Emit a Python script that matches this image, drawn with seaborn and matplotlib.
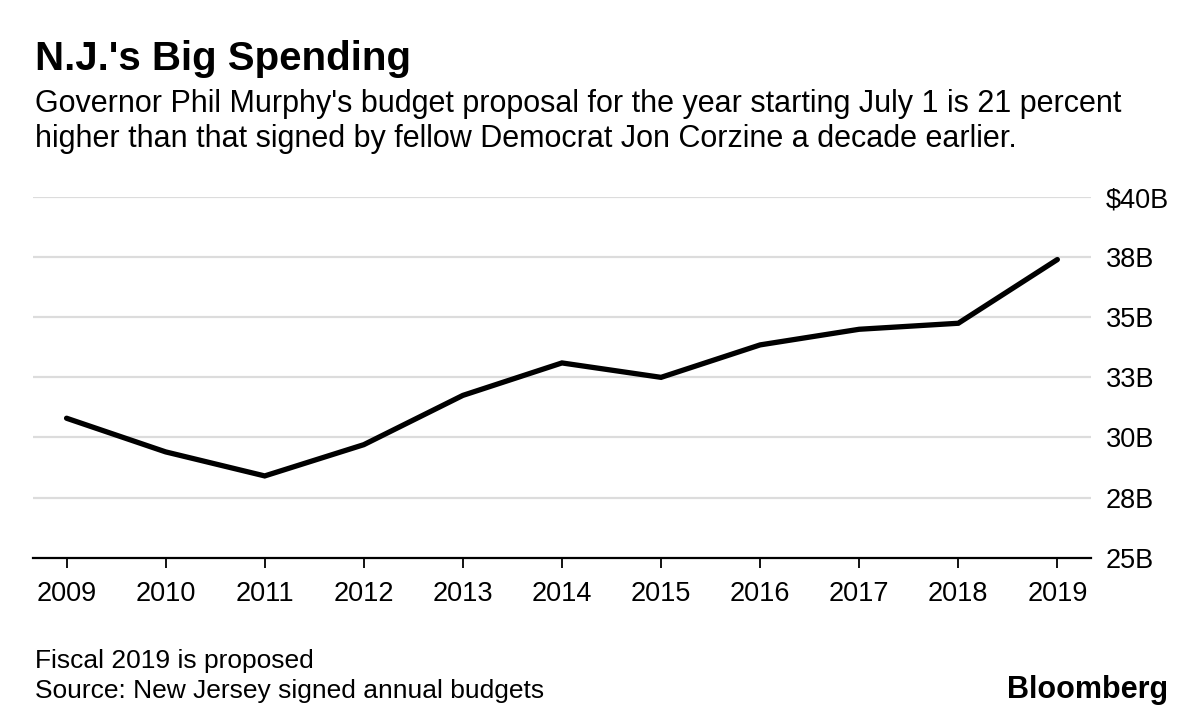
import matplotlib
matplotlib.use("Agg")
import matplotlib.pyplot as plt
import pandas as pd
import seaborn as sns

# Data (billions of dollars)
years = [2009, 2010, 2011, 2012, 2013, 2014, 2015, 2016, 2017, 2018, 2019]
budget = [30.8, 29.4, 28.4, 29.7, 31.75, 33.1, 32.5, 33.85, 34.5, 34.75, 37.4]
y_ticks = [25, 27.5, 30, 32.5, 35, 37.5, 40]
y_labels = ["25B", "28B", "30B", "33B", "35B", "38B", "$40B"]

title = "N.J.'s Big Spending"
subtitle = ("Governor Phil Murphy's budget proposal for the year starting July 1 is 21 percent\n"
            "higher than that signed by fellow Democrat Jon Corzine a decade earlier.")
note = "Fiscal 2019 is proposed"
source = "Source: New Jersey signed annual budgets"

df = pd.DataFrame({"year": years, "budget": budget})

sns.set_style("white")
plt.rcParams["font.family"] = ["Liberation Sans", "DejaVu Sans"]
plt.rcParams["text.color"] = "black"
plt.rcParams["xtick.color"] = "black"
plt.rcParams["ytick.color"] = "black"

fig = plt.figure(figsize=(12, 7.22), dpi=100)
ax = fig.add_axes([0.0278, 0.2276, 0.9088 - 0.0278, 0.7271 - 0.2276])

for v in y_ticks[1:]:
    ax.axhline(v, color="#dcdcdc", lw=1.6, zorder=0)

sns.lineplot(data=df, x="year", y="budget", ax=ax, color="black", lw=3.8,
             solid_capstyle="round", solid_joinstyle="miter")

ax.set_xlim(2008.665, 2019.335)
ax.set_ylim(25, 40)
ax.set_xticks(years)
ax.set_xticklabels([str(y) for y in years], fontsize=19.5)
ax.set_yticks(y_ticks)
ax.set_yticklabels(y_labels, fontsize=19.5)
ax.yaxis.tick_right()
ax.tick_params(axis="y", length=0, pad=11)
ax.tick_params(axis="x", bottom=True, direction="out", length=7.5, width=1.3,
               color="black", pad=9)
ax.set_xlabel("")
ax.set_ylabel("")
for s in ["top", "left", "right"]:
    ax.spines[s].set_visible(False)
ax.spines["bottom"].set_color("black")
ax.spines["bottom"].set_linewidth(1.6)
ax.spines["bottom"].set_zorder(3)

fig.text(0.0292, 1 - 70.5 / 722, title, fontsize=29, fontweight="bold", va="baseline")
fig.text(0.0292, 1 - 146.5 / 722, subtitle, fontsize=22, va="baseline", linespacing=1.2)
fig.text(0.0292, 1 - 668 / 722, note, fontsize=19, va="baseline")
fig.text(0.0292, 1 - 698 / 722, source, fontsize=19, va="baseline")
fig.text(0.9735, 1 - 698 / 722, "Bloomberg", fontsize=22, fontweight="bold",
         ha="right", va="baseline")

fig.savefig("out.png", dpi=100)
